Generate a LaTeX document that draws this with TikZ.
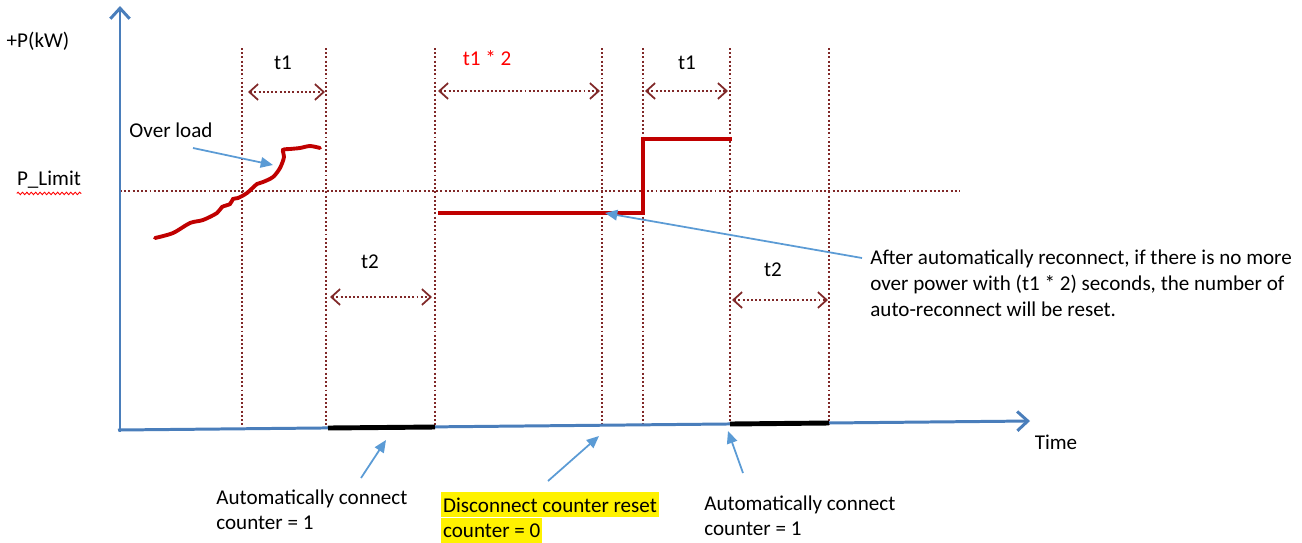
\documentclass[tikz,border=0pt]{standalone}
\usepackage{fontspec}
\setmainfont{Carlito}
\usetikzlibrary{arrows.meta, positioning, decorations.pathmorphing}
\definecolor{axisblue}{RGB}{74,126,187}
\definecolor{noteblue}{RGB}{91,155,213}
\definecolor{guidered}{RGB}{128,40,40}
\definecolor{loadred}{RGB}{192,0,0}
\tikzset{
    axis/.style={draw=axisblue, line width=1.7pt, -{Straight Barb[length=6pt,width=11pt,line width=1.7pt]}},
    guide/.style={draw=guidered, line width=1.1pt, dash pattern=on 1.1pt off 1.3pt},
    span/.style={draw=guidered, line width=1.1pt, dash pattern=on 1.1pt off 1.3pt,
        {Straight Barb[length=5pt,width=9pt,line width=1pt]}-{Straight Barb[length=5pt,width=9pt,line width=1pt]}},
    note/.style={draw=noteblue, line width=1pt, -{Triangle[length=7pt,width=6pt]}},
    load/.style={draw=loadred, line width=2.2pt},
    busy/.style={draw=black, line width=2.8pt},
    txt/.style={font=\fontsize{12}{14.7}\selectfont, inner sep=0pt}
}
\begin{document}
\begin{tikzpicture}[x=0.02cm, y=-0.02cm]
    \useasboundingbox (0,0) rectangle (1302,542);
    % guide lines
    \draw[guide] (120,191) -- (960,191);
    \foreach \x/\n in {242/a,326/b,435/c,602/d,643/e,730/f,829/g}
        \draw[guide] (\x,48) coordinate (top\n) -- (\x,425) coordinate (bot\n);
    % axes
    \coordinate (origin) at (118,430);
    \draw[axis] (120,432) -- (120,6);
    \draw[axis] (origin) -- (1030,421);
    \node[txt] (pkw) at (38,41) {+P(kW)};
    \node[txt] (time) at (1056,442) {Time};
    \node[txt] (plim) at (49,180) {P\_Limit};
    \draw[red, line width=0.5pt, decorate, decoration={snake, amplitude=0.7pt, segment length=2.5pt}]
        ([yshift=-2.5pt]plim.south west) -- ([yshift=-2.5pt]plim.south east);
    % time spans
    \draw[span] (248,92) -- (325,92);
    \node[txt] (t1a) at (283,63) {t1};
    \draw[span] (438,91) -- (600,91);
    \node[txt, text=red] (t1b) at (487,58) {t1 * 2};
    \draw[span] (645,91) -- (728,91);
    \node[txt] (t1c) at (687,63) {t1};
    \draw[span] (330,297) -- (432,297);
    \node[txt] (t2a) at (370,262) {t2};
    \draw[span] (732,300) -- (828,300);
    \node[txt] (t2b) at (773,270) {t2};
    % power
    \draw[load, line cap=round] plot[smooth, tension=0.5] coordinates {(155,238) (173,233) (190,223) (203,220) (217,213) (222,207) (230,204) (233,199) (238,198) (247,193) (257,184) (263,182) (273,177) (280,168) (284,157) (283,150) (290,149) (300,148) (310,146) (320,148)};
    \draw[load, line width=2.8pt] (438,213) -- (643,213) -- (643,139) -- (732,139);
    % connect periods
    \draw[busy] (328,428) -- (435,427);
    \draw[busy] (730,424) -- (829,423);
    % notes
    \node[txt] (over) at (171,130) {Over load};
    \coordinate (overtail) at (193,148);
    \coordinate (overtip) at (273,165);
    \draw[note] (overtail) -- (overtip);
    \node[txt, anchor=north west, align=left] (after) at (870,250)
        {After automatically reconnect, if there is no more\\over power with (t1 * 2) seconds, the number of\\auto-reconnect will be reset.};
    \coordinate (aftertail) at (862,258);
    \coordinate (aftertip) at (605,213);
    \draw[note] (aftertail) -- (aftertip);
    \node[txt, anchor=north west, align=left] (auto1) at (216,489) {Automatically connect\\counter = 1};
    \node[txt, anchor=north west, fill=yellow, inner xsep=1pt, minimum height=14.2pt] (reset) at (441,492) {Disconnect counter reset};
    \node[txt, anchor=north west, fill=yellow, inner xsep=1pt, minimum height=14.2pt] (zero) at (reset.south west) {counter = 0};
    \node[txt, anchor=north west, align=left] (auto2) at (704,495) {Automatically connect\\counter = 1};
    \coordinate (auto1tail) at (361,478);
    \coordinate (auto1tip) at (386,440);
    \coordinate (resettail) at (548,481);
    \coordinate (resettip) at (599,436);
    \coordinate (auto2tail) at (743,473);
    \coordinate (auto2tip) at (728,431);
    \draw[note] (auto1tail) -- (auto1tip);
    \draw[note] (resettail) -- (resettip);
    \draw[note] (auto2tail) -- (auto2tip);
\end{tikzpicture}
\end{document}
